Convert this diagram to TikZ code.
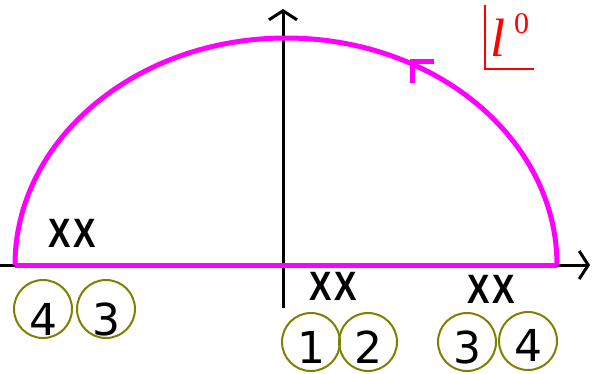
\documentclass[tikz,border=0pt]{standalone}
\usepackage{fontspec}
\newfontfamily\digitfont{DejaVu Sans}
\newfontfamily\xfont{Liberation Sans}
\newfontfamily\lfont{Liberation Serif}
\usetikzlibrary{arrows.meta}
\definecolor{mag}{RGB}{255,0,255}
\definecolor{olv}{RGB}{128,128,0}
\tikzset{
  axis/.style={line width=3pt, black, -{Straight Barb[length=9pt,width=28pt,line width=3pt]}},
  contour/.style={line width=5pt, mag},
  numcirc/.style={draw=olv, line width=2pt, circle, minimum size=58pt, inner sep=0pt},
  digit/.style={font=\digitfont\fontsize{44}{44}\selectfont, inner sep=0pt},
  pole/.style={font=\xfont\bfseries\fontsize{41}{41}\selectfont, inner sep=0pt, xscale=0.82},
}
\begin{document}
\begin{tikzpicture}[x=1pt,y=-1pt]
\useasboundingbox (0,0) rectangle (593,373);
% axes
\coordinate (xs) at (0,265);
\coordinate (xe) at (590,265);
\coordinate (ys) at (283,308);
\coordinate (ye) at (283,9);
\draw[axis] (xs) -- (xe);
\draw[axis] (ys) -- (ye);
% contour
\coordinate (cl) at (15,265);
\coordinate (cr) at (557,265);
\draw[contour, line cap=butt] (cl) arc[start angle=180, end angle=0, x radius=271pt, y radius=227pt];
\draw[contour] (cl) -- (cr);
% arrow marker on arc
\coordinate (ma) at (434,61);
\coordinate (mb) at (412,61);
\coordinate (mc) at (412,83);
\draw[contour, line cap=butt, line join=miter] (ma) -- (mb) -- (mc);
% l^0 label
\coordinate (la) at (485,5);
\coordinate (lb) at (485,69);
\coordinate (lc) at (534,69);
\draw[red, line width=2pt] (la) -- (lb) -- (lc);
\node[red, inner sep=0pt, anchor=base west, font=\lfont\itshape\fontsize{54}{54}\selectfont] (lab) at (490,56) {l};
\node[red, inner sep=0pt, anchor=base west, font=\lfont\fontsize{30}{30}\selectfont] (sup) at (514,33) {0};
% poles
\node[pole] (p1) at (72,233) {X\hspace{3pt}X};
\node[pole] (p2) at (333,286) {X\hspace{3pt}X};
\node[pole] (p3) at (491,289) {X\hspace{3pt}X};
% circled numbers
\node[numcirc] (c4l) at (43,309) {};
\node[numcirc] (c3l) at (106,309) {};
\node[numcirc] (c1) at (311,342) {};
\node[numcirc] (c2) at (368,342) {};
\node[numcirc] (c3r) at (467,342) {};
\node[numcirc] (c4r) at (528,341) {};
\node[digit] (d4l) at ([yshift=-10pt]c4l.center) {4};
\node[digit] (d3l) at ([yshift=-10pt]c3l.center) {3};
\node[digit] (d1) at ([yshift=-5pt]c1.center) {1};
\node[digit] (d2) at ([yshift=-5pt]c2.center) {2};
\node[digit] (d3r) at ([yshift=-5pt]c3r.center) {3};
\node[digit] (d4r) at ([yshift=-4pt]c4r.center) {4};
\end{tikzpicture}
\end{document}
